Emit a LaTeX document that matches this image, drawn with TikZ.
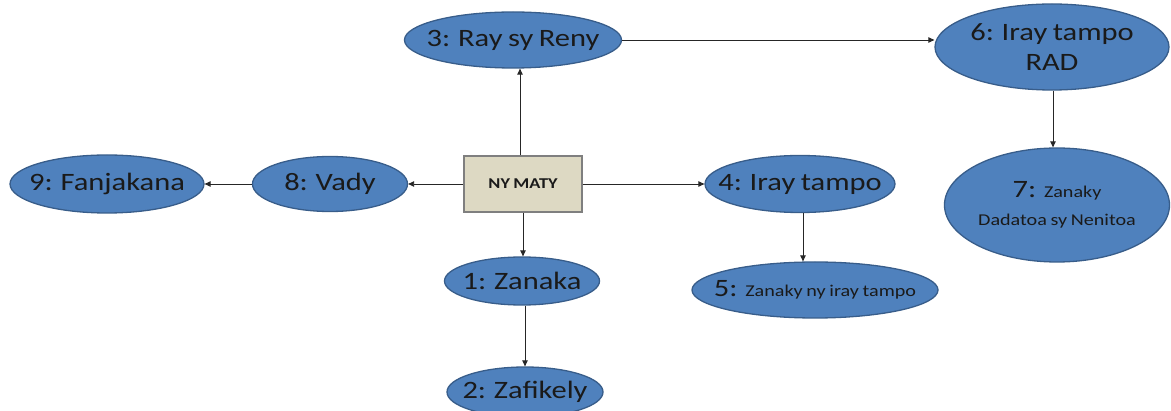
\documentclass[tikz,border=0pt]{standalone}
\usepackage{fontspec}
\setmainfont[FakeStretch=1.22,WordSpace=0.8]{Carlito}
\usetikzlibrary{shapes.geometric,arrows.meta}
\definecolor{ellfill}{HTML}{4F81BD}
\definecolor{elldraw}{HTML}{385D8A}
\definecolor{boxfill}{HTML}{DDD9C3}
\definecolor{boxdraw}{HTML}{7F7F7F}
\definecolor{txt}{HTML}{1A1A1A}
\newcommand\labL{\fontsize{25}{30}\selectfont}
\newcommand\labS{\fontsize{16.5}{20}\selectfont}
\begin{document}
\begin{tikzpicture}[x=1pt,y=-1pt,
  ell/.style={ellipse, fill=ellfill, draw=elldraw, line width=1.3pt, inner sep=0pt},
  lab/.style={text=txt, align=center, font=\labL, inner sep=0pt},
  rootbox/.style={rectangle, fill=boxfill, draw=boxdraw, line width=1.3pt, inner sep=0pt,
    minimum width=118pt, minimum height=56pt, text=txt, font=\fontsize{15}{18}\selectfont\bfseries},
  conn/.style={draw=black!85, line width=0.9pt, -{Triangle[length=6pt,width=5.5pt]}}]
\useasboundingbox (0,0) rectangle (1171,411);
\clip (0,0) rectangle (1171,411);
\node[rootbox] (root) at (523,184) {NY MATY};
\node[ell, minimum width=217pt, minimum height=56pt, label={[lab]center:{3: Ray sy Reny}}] (n3) at (513,40) {};
\node[ell, minimum width=234pt, minimum height=86pt, label={[lab]center:{6: Iray tampo\\RAD}}] (n6) at (1052,47) {};
\node[ell, minimum width=225pt, minimum height=114pt, label={[lab]center:{{\labL 7:} {\labS Zanaky}\\[-2pt]{\labS Dadatoa sy Nenitoa}}}] (n7) at (1057,205) {};
\node[ell, minimum width=190pt, minimum height=57pt, label={[lab]center:{4: Iray tampo}}] (n4) at (800,184) {};
\node[ell, minimum width=246pt, minimum height=56pt, label={[lab]center:{5: {\labS Zanaky ny iray tampo}}}] (n5) at (815,290) {};
\node[ell, minimum width=155pt, minimum height=48pt, label={[lab]center:{1: Zanaka}}] (n1) at (522,281) {};
\node[ell, minimum width=156pt, minimum height=50pt, label={[lab]center:{2: Zafikely}}] (n2) at (525,392) {};
\node[ell, minimum width=155pt, minimum height=55pt, label={[lab]center:{8: Vady}}] (n8) at (330,184) {};
\node[ell, minimum width=194pt, minimum height=58pt, label={[lab]center:{9: Fanjakana}}] (n9) at (107,184) {};
\draw[conn] (root.north -| 520,0) -- (n3.south -| 520,0);
\draw[conn] (n3.east) -- (n6.west |- n3.east);
\draw[conn] (n6.south -| 1053,0) -- (n7.north -| 1053,0);
\draw[conn] (root.east) -- (n4.west);
\draw[conn] (n4.south -| 803,0) -- (n5.north -| 803,0);
\draw[conn] (root.south) -- (n1.north -| root.south);
\draw[conn] (n1.south -| 525,0) -- (n2.north -| 525,0);
\draw[conn] (root.west) -- (n8.east);
\draw[conn] (n8.west) -- (n9.east);
\end{tikzpicture}
\end{document}
